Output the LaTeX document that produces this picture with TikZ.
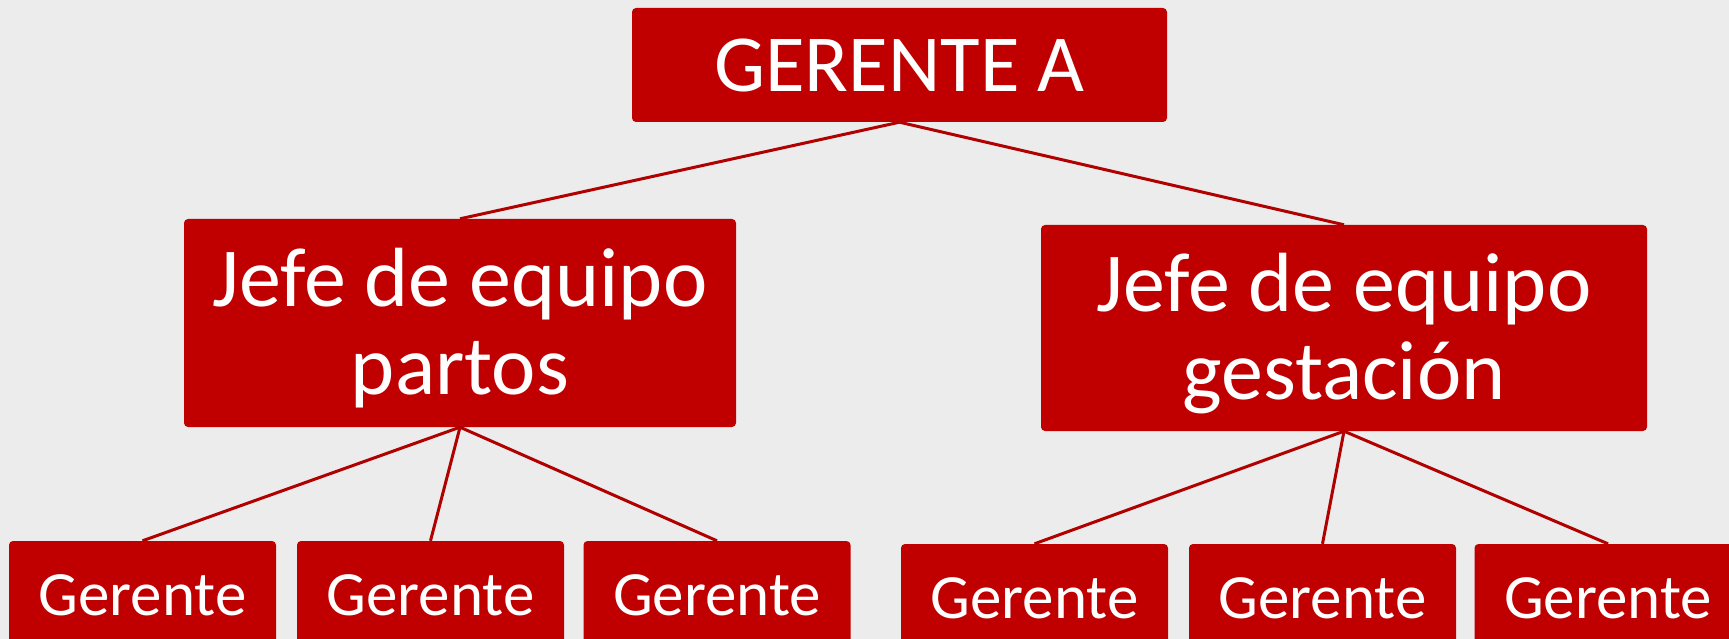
\documentclass[tikz,border=0pt]{standalone}
\usepackage{fontspec}
\setmainfont{Carlito}
\definecolor{boxred}{RGB}{192,0,0}
\definecolor{linered}{RGB}{176,0,0}
\definecolor{bg}{RGB}{236,236,236}
\tikzset{
  orgbox/.style={fill=boxred, rounded corners=4pt, text=white, inner sep=0pt, align=center},
  topbox/.style={orgbox, minimum width=535pt, minimum height=114pt, font=\fontsize{81}{81}\selectfont},
  jefebox/.style={orgbox, minimum width=552pt, minimum height=208pt},
  jefetext/.style={text=white, inner sep=0pt, align=center, font=\fontsize{84}{88}\selectfont},
  gerbox/.style={orgbox, minimum width=267pt, minimum height=108pt, font=\fontsize{63}{63}\selectfont},
  conn/.style={draw=linered, line width=3pt}
}
\begin{document}
\begin{tikzpicture}[x=1pt,y=-1pt]
\useasboundingbox (0,0) rectangle (1729,639);
\fill[bg] (0,0) rectangle (1729,639);
\node[topbox] (top) at (899.5,65) {GERENTE A};
\node[jefebox] (jp) at (460,323) {};
\node[jefetext] (jpt) at ([yshift=-5.5pt]jp.center) {Jefe de equipo\\partos};
\node[jefebox, minimum width=606pt, minimum height=206pt] (jg) at (1344,328) {};
\node[jefetext] (jgt) at ([yshift=-5.5pt]jg.center) {Jefe de equipo\\gestación};
\node[gerbox] (g1) at (142.5,595) {Gerente};
\node[gerbox] (g2) at (430.5,595) {Gerente};
\node[gerbox] (g3) at (717,595) {Gerente};
\node[gerbox] (g4) at (1034.5,598) {Gerente};
\node[gerbox] (g5) at (1322.5,598) {Gerente};
\node[gerbox] (g6) at (1608,598) {Gerente};
\draw[conn] (top.south) -- (jp.north);
\draw[conn] (top.south) -- (jg.north);
\draw[conn] (jp.south) -- (g1.north);
\draw[conn] (jp.south) -- (g2.north);
\draw[conn] (jp.south) -- (g3.north);
\draw[conn] (jg.south) -- (g4.north);
\draw[conn] (jg.south) -- (g5.north);
\draw[conn] (jg.south) -- (g6.north);
\end{tikzpicture}
\end{document}
